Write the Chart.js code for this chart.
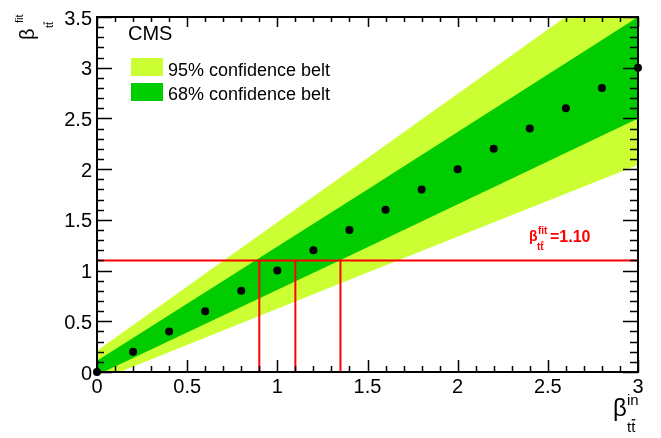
<!DOCTYPE html>
<html>
<head>
<meta charset="utf-8">
<script src="https://cdn.jsdelivr.net/npm/chart.js@4"></script>
<style>
  html, body { margin: 0; padding: 0; background: #fff; }
  canvas { display: block; }
</style>
</head>
<body>
<canvas id="belt" width="661" height="438"></canvas>
<script>
// injected vs fitted beta_ttbar (points sit on the diagonal)
const betaIn  = [0, 0.2, 0.4, 0.6, 0.8, 1.0, 1.2, 1.4, 1.6, 1.8, 2.0, 2.2, 2.4, 2.6, 2.8, 3.0];
const betaFit = [0, 0.2, 0.4, 0.6, 0.8, 1.0, 1.2, 1.4, 1.6, 1.8, 2.0, 2.2, 2.4, 2.6, 2.8, 3.0];

// confidence belt edges
const bandX       = [0, 1.5, 3];
const band95Upper = [0.21, 2.11, 4.01];
const band95Lower = [-0.09, 0.98, 2.04];
const band68Upper = [0.11, 1.80, 3.50];
const band68Lower = [-0.03, 1.23, 2.50];

// measured value and the belt crossings
const fitValue = 1.10;
const cutX = [0.90, 1.10, 1.35];

const xTicks = [0, 0.5, 1, 1.5, 2, 2.5, 3];
const yTicks = [0, 0.5, 1, 1.5, 2, 2.5, 3, 3.5];

const YELLOW = '#ccff33';
const GREEN = '#00cc00';
const RED = '#ff0000';
const FONT = '"Liberation Sans", Arial, sans-serif';

Chart.defaults.font.family = FONT;
Chart.defaults.color = '#000';

const toXY = (xs, ys) => xs.map((x, i) => ({ x: x, y: ys[i] }));

function bandSet(label, values, fill, color, order) {
  return {
    type: 'line', label: label, data: toXY(bandX, values),
    fill: fill, backgroundColor: color, borderWidth: 0, borderColor: color,
    pointRadius: 0, tension: 0, order: order
  };
}

const datasets = [
  bandSet('68% confidence belt', band68Upper, '+1', GREEN, 2),
  bandSet('68 lower', band68Lower, false, GREEN, 2),
  bandSet('95% confidence belt', band95Upper, '+1', YELLOW, 3),
  bandSet('95 lower', band95Lower, false, YELLOW, 3),
  {
    type: 'line', label: 'fit', data: toXY([0, 3], [fitValue, fitValue]),
    borderColor: RED, borderWidth: 2, pointRadius: 0, fill: false, order: 1
  }
];
cutX.forEach(c => {
  datasets.push({
    type: 'line', label: 'cut', data: toXY([c, c], [0, fitValue]),
    borderColor: RED, borderWidth: 2, pointRadius: 0, fill: false, order: 1
  });
});
datasets.push({
  type: 'scatter', label: 'points', data: toXY(betaIn, betaFit),
  pointRadius: 4, pointBackgroundColor: '#000', pointBorderWidth: 0,
  clip: false, order: 0
});

// ttbar with the bar over the second t
function drawTTbar(ctx, x, y, size, bold) {
  ctx.font = (bold ? 'bold ' : '') + size + 'px ' + FONT;
  const w = ctx.measureText('t').width;
  ctx.fillText('tt', x, y);
  ctx.fillRect(x + w + 0.5, y - size * 0.86, w - 0.5, Math.max(1, size * 0.09));
}

// ROOT-style frame with inward ticks; drawn just before the points
const framePlugin = {
  id: 'frame',
  beforeDatasetDraw(chart, args) {
    if (chart.data.datasets[args.index].label !== 'points') return;
    const ctx = chart.ctx;
    const a = chart.chartArea;
    const xs = chart.scales.x, ys = chart.scales.y;
    ctx.save();
    ctx.strokeStyle = '#000';
    ctx.lineWidth = 1.5;
    ctx.beginPath();
    for (let i = 0; i <= 30; i++) {
      const px = Math.round(xs.getPixelForValue(i / 10)) + 0.5;
      const major = i % 5 === 0;
      ctx.moveTo(px, a.bottom); ctx.lineTo(px, a.bottom - (major ? 12 : 6));
      ctx.moveTo(px, a.top); ctx.lineTo(px, a.top + (major ? 10 : 5));
    }
    for (let i = 0; i <= 35; i++) {
      const py = Math.round(ys.getPixelForValue(i / 10)) + 0.5;
      const major = i % 5 === 0;
      ctx.moveTo(a.left, py); ctx.lineTo(a.left + (major ? 15 : 7), py);
      ctx.moveTo(a.right, py); ctx.lineTo(a.right - (major ? 15 : 8), py);
    }
    ctx.stroke();
    ctx.lineWidth = 2;
    ctx.strokeRect(a.left, a.top, a.right - a.left, a.bottom - a.top);
    ctx.restore();
  },
  afterDraw(chart) {
    const ctx = chart.ctx;
    ctx.save();
    ctx.fillStyle = '#000';
    ctx.textBaseline = 'alphabetic';

    // y title, rotated
    ctx.save();
    ctx.translate(34, 40);
    ctx.rotate(-Math.PI / 2);
    ctx.font = '20px ' + FONT;
    ctx.fillText('β', 0, 0);
    ctx.font = '11px ' + FONT;
    ctx.fillText('fit', 17, -11);
    drawTTbar(ctx, 12, 19, 11, false);
    ctx.restore();

    // x title
    ctx.font = '24px ' + FONT;
    ctx.fillText('β', 613, 416);
    ctx.font = '15px ' + FONT;
    ctx.fillText('in', 627, 405);
    drawTTbar(ctx, 627, 432, 15, false);

    // legend
    ctx.font = '20px ' + FONT;
    ctx.fillText('CMS', 128, 40);
    ctx.fillStyle = YELLOW;
    ctx.fillRect(131, 58, 32, 18);
    ctx.fillStyle = GREEN;
    ctx.fillRect(131, 83, 32, 18);
    ctx.fillStyle = '#000';
    ctx.font = '18px ' + FONT;
    ctx.fillText(chart.data.datasets[2].label, 168, 76);
    ctx.fillText(chart.data.datasets[0].label, 168, 100);

    // measured value label
    ctx.fillStyle = RED;
    ctx.font = 'bold 14px ' + FONT;
    ctx.fillText('β', 529, 241);
    ctx.font = 'bold 10px ' + FONT;
    ctx.fillText('fit', 538, 234);
    drawTTbar(ctx, 537, 250, 10, true);
    ctx.font = 'bold 16px ' + FONT;
    ctx.fillText('=' + fitValue.toFixed(2), 550, 242);
    ctx.restore();
  }
};

new Chart(document.getElementById('belt'), {
  type: 'scatter',
  data: { datasets: datasets },
  options: {
    responsive: false,
    animation: false,
    devicePixelRatio: 1,
    layout: { padding: { top: 15, right: 23, left: 0, bottom: 0 } },
    plugins: { legend: { display: false }, tooltip: { enabled: false } },
    scales: {
      x: {
        type: 'linear', min: 0, max: 3,
        grid: { display: false, drawTicks: false }, border: { display: false },
        afterBuildTicks: s => { s.ticks = xTicks.map(v => ({ value: v })); },
        afterFit: s => { s.height = 66; },
        ticks: { font: { size: 20 }, padding: 3, maxRotation: 0, autoSkip: false,
                 callback: v => String(+v.toFixed(2)) }
      },
      y: {
        type: 'linear', min: 0, max: 3.5,
        grid: { display: false, drawTicks: false }, border: { display: false },
        afterBuildTicks: s => { s.ticks = yTicks.map(v => ({ value: v })); },
        afterFit: s => { s.width = 97; },
        ticks: { font: { size: 20 }, padding: 5, labelOffset: 2, autoSkip: false,
                 callback: v => String(+v.toFixed(2)) }
      }
    }
  },
  plugins: [framePlugin]
});
</script>
</body>
</html>
